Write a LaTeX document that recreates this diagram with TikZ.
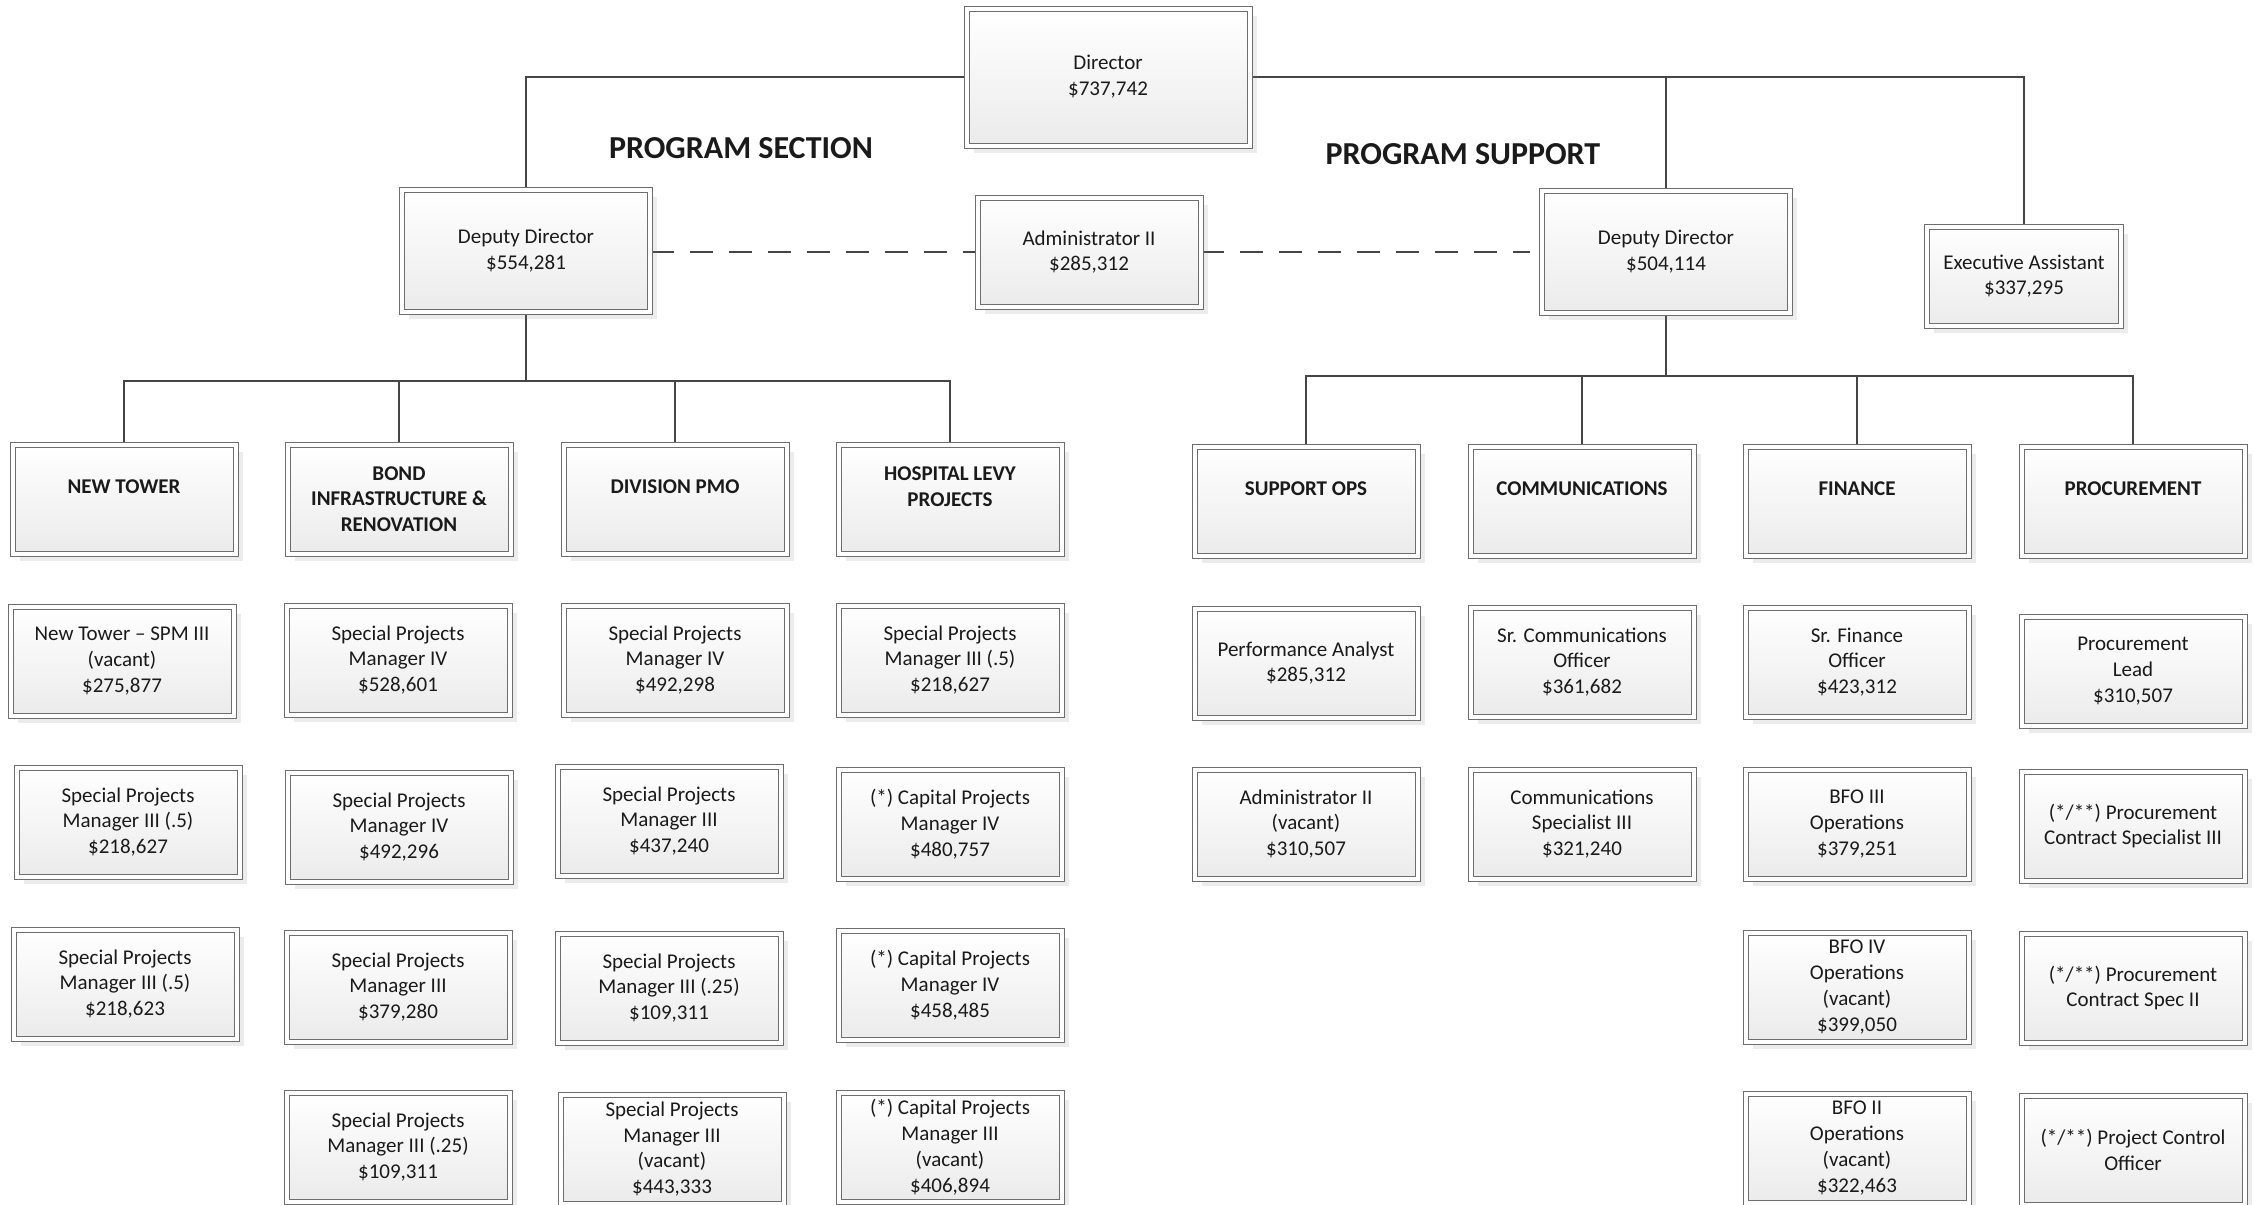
\documentclass[tikz,border=0pt]{standalone}
\usepackage{fontspec}
\setmainfont{Carlito}
\usetikzlibrary{shadows}
\definecolor{bordc}{HTML}{6E6E6E}
\definecolor{linec}{HTML}{454545}
\definecolor{txtc}{HTML}{1A1A1A}
\definecolor{botc}{HTML}{EBEBEB}
\pgfdeclarelayer{bg}
\pgfsetlayers{bg,main}
\tikzset{
 orgbox/.style={draw=bordc, line width=0.5pt, double=white, double distance=2pt,
   top color=white, bottom color=botc,
   drop shadow={shadow xshift=3.5pt, shadow yshift=-3.5pt, opacity=0.15},
   align=center, text=txtc, inner sep=2pt, minimum width=111.5pt, minimum height=54.5pt,
   font=\fontsize{10.5}{12.9}\selectfont},
 hdbox/.style={orgbox, font=\fontsize{10.5}{12.9}\selectfont\bfseries},
 conn/.style={draw=linec, line width=1.4pt},
 dashc/.style={draw=linec, line width=1.2pt, dash pattern=on 11.5pt off 8pt},
 sect/.style={font=\fontsize{16}{19}\selectfont\bfseries, text=txtc},
}
\begin{document}
\begin{tikzpicture}[x=0.5pt,y=-0.5pt]
\useasboundingbox (0,0) rectangle (2255,1205);

% top level
\node[orgbox, minimum width=141.5pt, minimum height=68.5pt] (dir) at (1108,77) {Director\\\$737,742};
\node[orgbox, minimum width=124pt, minimum height=61pt] (dd1) at (526,251) {Deputy Director\\\$554,281};
\node[orgbox] (adm) at (1089,252) {Administrator II\\\$285,312};
\node[orgbox, minimum width=124pt, minimum height=61pt] (dd2) at (1666,252) {Deputy Director\\\$504,114};
\node[orgbox, minimum width=97pt, minimum height=49.5pt] (ea) at (2024,276) {Executive Assistant\\\$337,295};

\node[sect] (ps) at (741,148) {PROGRAM SECTION};
\node[sect] (pp) at (1463,154) {PROGRAM SUPPORT};

% department headers
\node[hdbox] (h1) at (124,499) {NEW TOWER\\[-4pt]\strut};
\node[hdbox] (h2) at (399,499) {BOND\\INFRASTRUCTURE \&\\RENOVATION};
\node[hdbox] (h3) at (675,499) {DIVISION PMO\\[-4pt]\strut};
\node[hdbox] (h4) at (950,499) {HOSPITAL LEVY\\PROJECTS\\[-4pt]\strut};
\node[hdbox] (h5) at (1306,501) {SUPPORT OPS\\[-4pt]\strut};
\node[hdbox] (h6) at (1582,501) {COMMUNICATIONS\\[-4pt]\strut};
\node[hdbox] (h7) at (1857,501) {FINANCE\\[-4pt]\strut};
\node[hdbox] (h8) at (2133,501) {PROCUREMENT\\[-4pt]\strut};

% staff
\node[orgbox] (s11) at (122,661) {New Tower – SPM III\\(vacant)\\\$275,877};
\node[orgbox] (s12) at (128,822) {Special Projects\\Manager III (.5)\\\$218,627};
\node[orgbox] (s13) at (125,984) {Special Projects\\Manager III (.5)\\\$218,623};

\node[orgbox] (s21) at (398,660) {Special Projects\\Manager IV\\\$528,601};
\node[orgbox] (s22) at (399,827) {Special Projects\\Manager IV\\\$492,296};
\node[orgbox] (s23) at (398,987) {Special Projects\\Manager III\\\$379,280};
\node[orgbox] (s24) at (398,1147) {Special Projects\\Manager III (.25)\\\$109,311};

\node[orgbox] (s31) at (675,660) {Special Projects\\Manager IV\\\$492,298};
\node[orgbox] (s32) at (669,821) {Special Projects\\Manager III\\\$437,240};
\node[orgbox] (s33) at (669,988) {Special Projects\\Manager III (.25)\\\$109,311};
\node[orgbox] (s34) at (672,1149) {Special Projects\\Manager III\\(vacant)\\\$443,333};

\node[orgbox] (s41) at (950,660) {Special Projects\\Manager III (.5)\\\$218,627};
\node[orgbox] (s42) at (950,824) {(*) Capital Projects\\Manager IV\\\$480,757};
\node[orgbox] (s43) at (950,985) {(*) Capital Projects\\Manager IV\\\$458,485};
\node[orgbox] (s44) at (950,1147) {(*) Capital Projects\\Manager III\\(vacant)\\\$406,894};

\node[orgbox] (s51) at (1306,663) {Performance Analyst\\\$285,312};
\node[orgbox] (s52) at (1306,824) {Administrator II\\(vacant)\\\$310,507};

\node[orgbox] (s61) at (1582,662) {Sr. Communications\\Officer\\\$361,682};
\node[orgbox] (s62) at (1582,824) {Communications\\Specialist III\\\$321,240};

\node[orgbox] (s71) at (1857,662) {Sr. Finance\\Officer\\\$423,312};
\node[orgbox] (s72) at (1857,824) {BFO III\\Operations\\\$379,251};
\node[orgbox] (s73) at (1857,987) {BFO IV\\Operations\\(vacant)\\\$399,050};
\node[orgbox] (s74) at (1857,1148) {BFO II\\Operations\\(vacant)\\\$322,463};

\node[orgbox] (s81) at (2133,671) {Procurement\\Lead\\\$310,507};
\node[orgbox] (s82) at (2133,826) {(*/**) Procurement\\Contract Specialist III};
\node[orgbox] (s83) at (2133,988) {(*/**) Procurement\\Contract Spec II};
\node[orgbox] (s84) at (2133,1150) {(*/**) Project Control\\Officer};

% connector helpers
\coordinate (busL) at (526,381);
\coordinate (busR) at (1666,376);
\coordinate (dd2end) at ([xshift=-6pt]dd2.west);

\begin{pgfonlayer}{bg}
\draw[conn] (dir.west) -| (dd1.north);
\draw[conn] (dir.east) -| (ea.north);
\draw[conn] (dd2.north) -- (dd2.north |- dir.east);

\draw[conn] (dd1.south) -- (busL);
\draw[conn] (h1.north) |- (h4.north |- busL) -- (h4.north);
\draw[conn] (h2.north) -- (h2.north |- busL);
\draw[conn] (h3.north) -- (h3.north |- busL);

\draw[conn] (dd2.south) -- (busR);
\draw[conn] (h5.north) |- (h8.north |- busR) -- (h8.north);
\draw[conn] (h6.north) -- (h6.north |- busR);
\draw[conn] (h7.north) -- (h7.north |- busR);

\draw[dashc] (dd1.east |- adm.west) -- (adm.west);
\draw[dashc] (adm.east) -- (dd2end);
\end{pgfonlayer}
\end{tikzpicture}
\end{document}
